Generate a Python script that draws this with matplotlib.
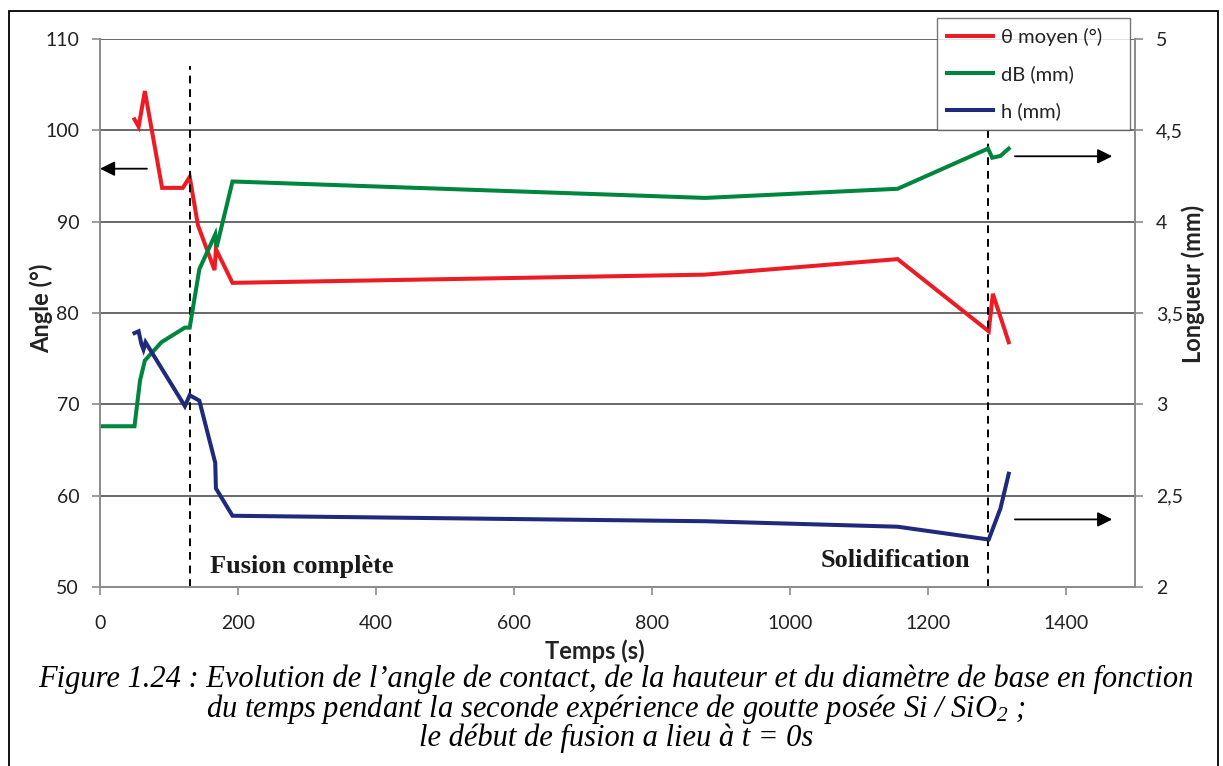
import matplotlib.pyplot as plt
from matplotlib.patches import Rectangle
from matplotlib.ticker import FuncFormatter

plt.rcParams['font.family'] = ['Lato', 'DejaVu Sans']
plt.rcParams['mathtext.fontset'] = 'custom'
plt.rcParams['mathtext.rm'] = 'Liberation Serif:italic'
plt.rcParams['mathtext.it'] = 'Liberation Serif:italic'

# angle de contact moyen (°)
t_theta = [50, 56, 65, 90, 120, 130, 142, 166, 168, 192, 877, 1156, 1288, 1294, 1317]
theta = [101.2, 100.4, 104.3, 93.7, 93.7, 94.9, 89.6, 84.7, 87.0, 83.3, 84.2, 85.9, 78.0, 82.1, 76.8]

# diametre de base dB (mm)
t_db = [0, 50, 58, 65, 89, 123, 130, 144, 167, 169, 192, 877, 1156, 1287, 1293, 1305, 1317]
db = [2.88, 2.88, 3.13, 3.24, 3.34, 3.42, 3.42, 3.74, 3.93, 3.86, 4.22, 4.13, 4.18, 4.40, 4.35, 4.36, 4.40]

# hauteur h (mm)
t_h = [50, 56, 60, 63, 66, 123, 130, 144, 167, 168, 192, 877, 1156, 1288, 1305, 1317]
h = [3.39, 3.40, 3.33, 3.30, 3.34, 2.99, 3.05, 3.02, 2.68, 2.54, 2.39, 2.36, 2.33, 2.26, 2.43, 2.62]

t_fusion = 130
t_solid = 1287

W, H = 1223, 766
fig = plt.figure(figsize=(W / 100, H / 100), dpi=100)
ax = fig.add_axes([100 / W, 1 - 587 / H, (1135 - 100) / W, (587 - 39) / H])
ax2 = ax.twinx()

red = '#ED1C24'
green = '#00853F'
navy = '#1F2A7C'
gray = '#8C8C8C'
txt = '#222222'

l1, = ax.plot(t_theta, theta, color=red, lw=2.9, solid_joinstyle='miter')
l2, = ax2.plot(t_db, db, color=green, lw=2.9, solid_joinstyle='miter')
l3, = ax2.plot(t_h, h, color=navy, lw=2.9, solid_joinstyle='miter')

ax.set_xlim(0, 1500)
ax.set_ylim(50, 110)
ax2.set_ylim(2, 5)
ax.set_xticks(range(0, 1401, 200))
ax.set_yticks(range(50, 111, 10))
ax2.set_yticks([2, 2.5, 3, 3.5, 4, 4.5, 5])
ax2.yaxis.set_major_formatter(FuncFormatter(lambda v, p: ('%g' % v).replace('.', ',')))

ax.grid(axis='y', color='#404040', lw=1.1)
ax.set_axisbelow(True)
for a in (ax, ax2):
    for s in a.spines.values():
        s.set_color(gray)
        s.set_linewidth(1.3)
    a.spines['top'].set_visible(False)
ax.tick_params(axis='x', colors=gray, length=6, width=1.2, pad=14, labelsize=14, labelcolor=txt)
ax.tick_params(axis='y', colors=gray, length=6, width=1.2, pad=9, labelsize=14, labelcolor=txt)
ax2.tick_params(axis='y', colors=gray, length=6, width=1.2, pad=9, labelsize=14, labelcolor=txt)

ax.set_ylabel('Angle (°)', fontsize=17, fontweight='bold', color=txt)
ax.yaxis.set_label_coords(-47 / 1035, (587 - 308) / 548)
ax2.set_ylabel('Longueur (mm)', fontsize=17, fontweight='bold', color=txt)
ax2.yaxis.set_label_coords(1 + 46 / 1035, (587 - 284) / 548)
ax.set_xlabel('Temps (s)', fontsize=17, fontweight='bold', color=txt)
ax.xaxis.set_label_coords((595 - 100) / 1035, -52 / 548)

# lignes de fusion / solidification
ax.plot([t_fusion, t_fusion], [50, 107], color='k', ls=(0, (4, 3)), lw=1.4)
ax.plot([t_solid, t_solid], [50, 100], color='k', ls=(0, (4, 3)), lw=1.4)
ax2.text(159, 2.11, 'Fusion complète', family='Liberation Serif', fontweight='bold',
         fontsize=19, va='center', ha='left', color='#1a1a1a')
ax2.text(1261, 2.145, 'Solidification', family='Liberation Serif', fontweight='bold',
         fontsize=19, va='center', ha='right', color='#1a1a1a')

# fleches vers les axes
arrow = dict(arrowstyle='-|>', color='k', lw=1.3, mutation_scale=22, shrinkA=0, shrinkB=0)
ax.annotate('', xy=(0, 95.8), xytext=(68, 95.8), arrowprops=arrow)
ax2.annotate('', xy=(1467, 4.358), xytext=(1326, 4.358), arrowprops=arrow)
ax2.annotate('', xy=(1467, 2.37), xytext=(1326, 2.37), arrowprops=arrow)

leg = fig.legend([l1, l2, l3], ['θ moyen (°)', 'dB (mm)', 'h (mm)'],
                 loc='upper left', bbox_to_anchor=(937 / W, 1 - 125 / H, 193 / W, 107 / H),
                 mode='expand', fontsize=14.5, frameon=True, fancybox=False,
                 borderaxespad=0, handlelength=2.3, handletextpad=0.4,
                 labelspacing=0.95, borderpad=0.5)
leg.get_frame().set_edgecolor('#555555')
leg.get_frame().set_linewidth(1.0)
for t in leg.get_texts():
    t.set_color(txt)

cap = dict(family='Liberation Serif', style='italic', fontsize=22, ha='center', va='center')
fig.text(616 / W, 1 - 679 / H, 'Figure 1.24 : Evolution de l’angle de contact, de la hauteur et du diamètre de base en fonction', **cap)
fig.text(616 / W, 1 - 709 / H, r'du temps pendant la seconde expérience de goutte posée Si / SiO$_2$ ;', **cap)
fig.text(616 / W, 1 - 738 / H, 'le début de fusion a lieu à t = 0s', **cap)

fig.patches.append(Rectangle((9 / W, -0.05), (1218 - 9) / W, 1.05 - 11 / H,
                             transform=fig.transFigure, fill=False, ec='k', lw=1.3))

fig.savefig('out.png', dpi=100)
